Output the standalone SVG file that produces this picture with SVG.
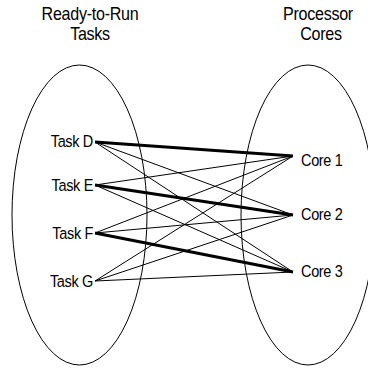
<svg xmlns="http://www.w3.org/2000/svg" width="368" height="368" viewBox="0 0 368 368">
  <style>
    .set { fill: none; stroke: #000; stroke-width: 1; }
    .title { font-family: "Liberation Sans", Arial, sans-serif; font-size: 17.5px; letter-spacing: -0.3px; fill: #000; text-anchor: middle; }
    .label { font-family: "Liberation Sans", Arial, sans-serif; font-size: 16.5px; letter-spacing: -0.4px; fill: #000; }
    .task { text-anchor: end; }
    .link { stroke: #000; stroke-width: 1; fill: none; }
    .link.main { stroke-width: 3; }
  </style>

  <!-- column headings (narrowed type) -->
  <g id="heading-tasks">
    <text class="title" transform="translate(90,19.5) scale(0.92,1)">Ready-to-Run</text>
    <text class="title" transform="translate(90,39.5) scale(0.92,1)">Tasks</text>
  </g>
  <g id="heading-cores">
    <text class="title" transform="translate(318,19.5) scale(0.92,1)">Processor</text>
    <text class="title" transform="translate(321,39.5) scale(0.92,1)">Cores</text>
  </g>

  <!-- sets -->
  <g id="task-set"><ellipse class="set" cx="79.5" cy="215" rx="67.5" ry="150"/></g>
  <g id="core-set"><ellipse class="set" cx="308" cy="215" rx="67" ry="150"/></g>

  <!-- task-to-core connectors -->
  <g id="connectors">
    <line class="link main" x1="95" y1="142" x2="293" y2="156"/>
    <line class="link" x1="95" y1="142" x2="293" y2="215"/>
    <line class="link" x1="95" y1="142" x2="293" y2="272"/>
    <line class="link" x1="95" y1="185" x2="293" y2="156"/>
    <line class="link main" x1="95" y1="185" x2="293" y2="215"/>
    <line class="link" x1="95" y1="185" x2="293" y2="272"/>
    <line class="link" x1="95" y1="233" x2="293" y2="156"/>
    <line class="link" x1="95" y1="233" x2="293" y2="215"/>
    <line class="link main" x1="95" y1="233" x2="293" y2="272"/>
    <line class="link" x1="95" y1="281" x2="293" y2="156"/>
    <line class="link" x1="95" y1="281" x2="293" y2="215"/>
    <line class="link" x1="95" y1="281" x2="293" y2="272"/>
  </g>

  <!-- tasks -->
  <g id="task-d"><text class="label task" transform="translate(93,147) scale(0.88,1)">Task D</text></g>
  <g id="task-e"><text class="label task" transform="translate(93,191) scale(0.88,1)">Task E</text></g>
  <g id="task-f"><text class="label task" transform="translate(93,239) scale(0.88,1)">Task F</text></g>
  <g id="task-g"><text class="label task" transform="translate(93,287) scale(0.88,1)">Task G</text></g>

  <!-- cores -->
  <g id="core-1"><text class="label" transform="translate(301,166) scale(0.88,1)">Core 1</text></g>
  <g id="core-2"><text class="label" transform="translate(301,220) scale(0.88,1)">Core 2</text></g>
  <g id="core-3"><text class="label" transform="translate(301,277) scale(0.88,1)">Core 3</text></g>
</svg>
